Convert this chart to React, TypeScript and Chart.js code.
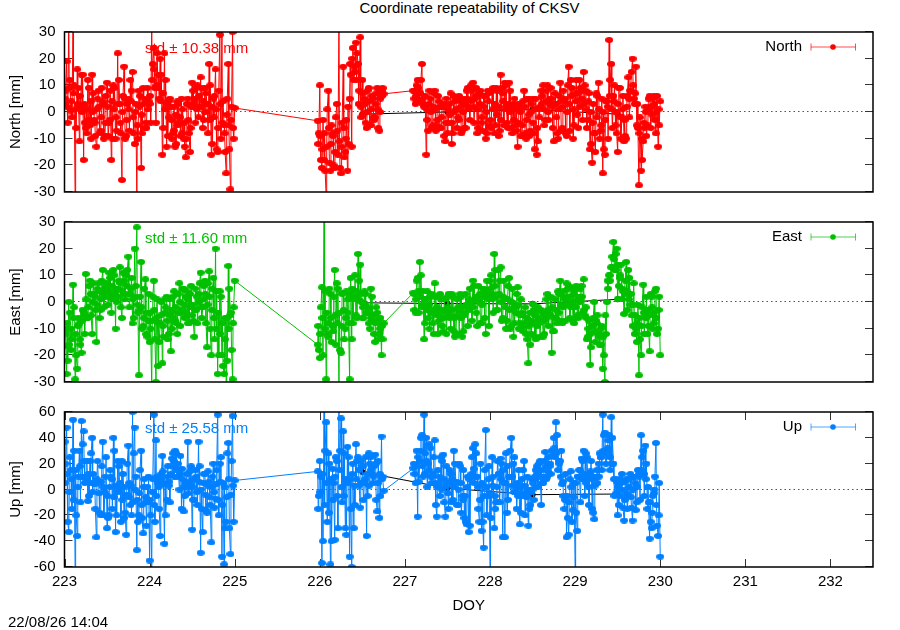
import React, { useEffect, useRef } from "react";
import Chart from "chart.js/auto";

const FONT = "'Liberation Sans', Arial, sans-serif";
const FONT_SIZE = 15;

// epochs (DOY), the station has two data gaps
const doyA = [
  223.0, 223.025, 223.05, 223.075, 223.1, 223.125, 223.15, 223.175, 223.2, 223.225,
  223.25, 223.275, 223.3, 223.325, 223.35, 223.375, 223.4, 223.425, 223.45, 223.475,
  223.5, 223.525, 223.55, 223.575, 223.6, 223.625, 223.65, 223.675, 223.7, 223.725,
  223.75, 223.775, 223.8, 223.825, 223.85, 223.875, 223.9, 223.925, 223.95, 223.975,
  224.0, 224.025, 224.05, 224.075, 224.1, 224.125, 224.15, 224.175, 224.2, 224.225,
  224.25, 224.275, 224.3, 224.325, 224.35, 224.375, 224.4, 224.425, 224.45, 224.475,
  224.5, 224.525, 224.55, 224.575, 224.6, 224.625, 224.65, 224.675, 224.7, 224.725,
  224.75, 224.775, 224.8, 224.825, 224.85, 224.875, 224.9, 224.925, 224.95, 224.975, 225.0
];
const doyB = [
  225.975, 226.0, 226.025, 226.05, 226.075, 226.1, 226.125, 226.15, 226.175, 226.2,
  226.225, 226.25, 226.275, 226.3, 226.325, 226.35, 226.375, 226.4, 226.425, 226.45,
  226.475, 226.5, 226.525, 226.55, 226.575, 226.6, 226.625, 226.65, 226.675, 226.7,
  226.725, 226.75
];
const doyC = [
  227.1, 227.125, 227.15, 227.175, 227.2, 227.225, 227.25, 227.275, 227.3, 227.325,
  227.35, 227.375, 227.4, 227.425, 227.45, 227.475, 227.5, 227.525, 227.55, 227.575,
  227.6, 227.625, 227.65, 227.675, 227.7, 227.725, 227.75, 227.775, 227.8, 227.825,
  227.85, 227.875, 227.9, 227.925, 227.95, 227.975, 228.0, 228.025, 228.05, 228.075,
  228.1, 228.125, 228.15, 228.175, 228.2, 228.225, 228.25, 228.275, 228.3, 228.325,
  228.35, 228.375, 228.4, 228.425, 228.45, 228.475, 228.5, 228.525, 228.55, 228.575,
  228.6, 228.625, 228.65, 228.675, 228.7, 228.725, 228.75, 228.775, 228.8, 228.825,
  228.85, 228.875, 228.9, 228.925, 228.95, 228.975, 229.0, 229.025, 229.05, 229.075,
  229.1, 229.125, 229.15, 229.175, 229.2, 229.225, 229.25, 229.275, 229.3, 229.325,
  229.35, 229.375, 229.4, 229.425, 229.45, 229.475, 229.5, 229.525, 229.55, 229.575,
  229.6, 229.625, 229.65, 229.675, 229.7, 229.725, 229.75, 229.775, 229.8, 229.825,
  229.85, 229.875, 229.9, 229.925, 229.95, 229.975, 230.0
];
// epochs in between, these carry the dense band of each day
const midDoyA = [
  223.0125, 223.0375, 223.0625, 223.0875, 223.1125, 223.1375, 223.1625, 223.1875, 223.2125, 223.2375,
  223.2625, 223.2875, 223.3125, 223.3375, 223.3625, 223.3875, 223.4125, 223.4375, 223.4625, 223.4875,
  223.5125, 223.5375, 223.5625, 223.5875, 223.6125, 223.6375, 223.6625, 223.6875, 223.7125, 223.7375,
  223.7625, 223.7875, 223.8125, 223.8375, 223.8625, 223.8875, 223.9125, 223.9375, 223.9625, 223.9875,
  224.0125, 224.0375, 224.0625, 224.0875, 224.1125, 224.1375, 224.1625, 224.1875, 224.2125, 224.2375,
  224.2625, 224.2875, 224.3125, 224.3375, 224.3625, 224.3875, 224.4125, 224.4375, 224.4625, 224.4875,
  224.5125, 224.5375, 224.5625, 224.5875, 224.6125, 224.6375, 224.6625, 224.6875, 224.7125, 224.7375,
  224.7625, 224.7875, 224.8125, 224.8375, 224.8625, 224.8875, 224.9125, 224.9375, 224.9625, 224.9875
];
const midDoyB = [
  225.9875, 226.0125, 226.0375, 226.0625, 226.0875, 226.1125, 226.1375, 226.1625, 226.1875, 226.2125,
  226.2375, 226.2625, 226.2875, 226.3125, 226.3375, 226.3625, 226.3875, 226.4125, 226.4375, 226.4625,
  226.4875, 226.5125, 226.5375, 226.5625, 226.5875, 226.6125, 226.6375, 226.6625, 226.6875, 226.7125,
  226.7375
];
const midDoyC = [
  227.1125, 227.1375, 227.1625, 227.1875, 227.2125, 227.2375, 227.2625, 227.2875, 227.3125, 227.3375,
  227.3625, 227.3875, 227.4125, 227.4375, 227.4625, 227.4875, 227.5125, 227.5375, 227.5625, 227.5875,
  227.6125, 227.6375, 227.6625, 227.6875, 227.7125, 227.7375, 227.7625, 227.7875, 227.8125, 227.8375,
  227.8625, 227.8875, 227.9125, 227.9375, 227.9625, 227.9875, 228.0125, 228.0375, 228.0625, 228.0875,
  228.1125, 228.1375, 228.1625, 228.1875, 228.2125, 228.2375, 228.2625, 228.2875, 228.3125, 228.3375,
  228.3625, 228.3875, 228.4125, 228.4375, 228.4625, 228.4875, 228.5125, 228.5375, 228.5625, 228.5875,
  228.6125, 228.6375, 228.6625, 228.6875, 228.7125, 228.7375, 228.7625, 228.7875, 228.8125, 228.8375,
  228.8625, 228.8875, 228.9125, 228.9375, 228.9625, 228.9875, 229.0125, 229.0375, 229.0625, 229.0875,
  229.1125, 229.1375, 229.1625, 229.1875, 229.2125, 229.2375, 229.2625, 229.2875, 229.3125, 229.3375,
  229.3625, 229.3875, 229.4125, 229.4375, 229.4625, 229.4875, 229.5125, 229.5375, 229.5625, 229.5875,
  229.6125, 229.6375, 229.6625, 229.6875, 229.7125, 229.7375, 229.7625, 229.7875, 229.8125, 229.8375,
  229.8625, 229.8875, 229.9125, 229.9375, 229.9625, 229.9875
];
// and the epochs nearest the middle of that band
const coreDoyA = [
  223.006, 223.031, 223.056, 223.081, 223.106, 223.131, 223.156, 223.181, 223.206, 223.231,
  223.256, 223.281, 223.306, 223.331, 223.356, 223.381, 223.406, 223.431, 223.456, 223.481,
  223.506, 223.531, 223.556, 223.581, 223.606, 223.631, 223.656, 223.681, 223.706, 223.731,
  223.756, 223.781, 223.806, 223.831, 223.856, 223.881, 223.906, 223.931, 223.956, 223.981,
  224.006, 224.031, 224.056, 224.081, 224.106, 224.131, 224.156, 224.181, 224.206, 224.231,
  224.256, 224.281, 224.306, 224.331, 224.356, 224.381, 224.406, 224.431, 224.456, 224.481,
  224.506, 224.531, 224.556, 224.581, 224.606, 224.631, 224.656, 224.681, 224.706, 224.731,
  224.756, 224.781, 224.806, 224.831, 224.856, 224.881, 224.906, 224.931, 224.956, 224.981
];
const coreDoyB = [
  225.981, 226.006, 226.031, 226.056, 226.081, 226.106, 226.131, 226.156, 226.181, 226.206,
  226.231, 226.256, 226.281, 226.306, 226.331, 226.356, 226.381, 226.406, 226.431, 226.456,
  226.481, 226.506, 226.531, 226.556, 226.581, 226.606, 226.631, 226.656, 226.681, 226.706,
  226.731
];
const coreDoyC = [
  227.106, 227.131, 227.156, 227.181, 227.206, 227.231, 227.256, 227.281, 227.306, 227.331,
  227.356, 227.381, 227.406, 227.431, 227.456, 227.481, 227.506, 227.531, 227.556, 227.581,
  227.606, 227.631, 227.656, 227.681, 227.706, 227.731, 227.756, 227.781, 227.806, 227.831,
  227.856, 227.881, 227.906, 227.931, 227.956, 227.981, 228.006, 228.031, 228.056, 228.081,
  228.106, 228.131, 228.156, 228.181, 228.206, 228.231, 228.256, 228.281, 228.306, 228.331,
  228.356, 228.381, 228.406, 228.431, 228.456, 228.481, 228.506, 228.531, 228.556, 228.581,
  228.606, 228.631, 228.656, 228.681, 228.706, 228.731, 228.756, 228.781, 228.806, 228.831,
  228.856, 228.881, 228.906, 228.931, 228.956, 228.981, 229.006, 229.031, 229.056, 229.081,
  229.106, 229.131, 229.156, 229.181, 229.206, 229.231, 229.256, 229.281, 229.306, 229.331,
  229.356, 229.381, 229.406, 229.431, 229.456, 229.481, 229.506, 229.531, 229.556, 229.581,
  229.606, 229.631, 229.656, 229.681, 229.706, 229.731, 229.756, 229.781, 229.806, 229.831,
  229.856, 229.881, 229.906, 229.931, 229.956, 229.981
];
const doy = [...doyA, ...doyB, ...doyC];
const midDoy = [...midDoyA, ...midDoyB, ...midDoyC];
const coreDoy = [...coreDoyA, ...coreDoyB, ...coreDoyC];

const northA = [
  3, 19, 34, 0.5, 33, -32, 16, -11, 14, -18,
  -6, 12, -5, 14, -3, -13, 8, -7, 4, -9,
  11, -4, -18, 10, -10, 22, 3, -25.5, 17, -9,
  5, 12, 15, -12, -32, 8, -21, 9, -6, 9,
  3, 33, 24, -4, 9, 20, -16, 22, -13, 4,
  2, -8, -13, 4, -4, 5, -10, -17, 5, -15,
  11, 2, 9, -2, 13, -6, 9, 3, 18, -16,
  5, 16, -15, 29, 33, -5, -23, 18, -29, 30, 1.5
];
const northB = [
  -3.3, 10, -21, -18, -32, 8, -22, -8, -21, 3,
  34, -23, 17, -15, -22, 5, -13, 12, 26, 18,
  28, 12, 5, -6, 9, -5, 5, -2, 9, -7,
  8, 6.8
];
const northC = [
  8, 3, 12, 7, 18, 2, -16, -7, 5, -5,
  8, -5, 4, -6, 2, -11, -8, 3, -12, 6,
  5, -2, 4, -7, -6, 8, 2, 10, 11, 5,
  -8, 7, -4, 6, -10, 8, -5, 8, -8, 9,
  -9, 14, 7, 11, -4, 11, -6, 3, -5, -13,
  2, -9, 8, -10, 5, -7, 5, -14, -16, 1,
  8, 10, -3, 10, 3, 5, -11, 3, -10, 11,
  -6, 4, -9, 17, 12, -10, 7, -1, 12, 8,
  15, 8, -3, -14, -19, -8, 7, 11, -7, -23,
  -16, 4, 27, 18, 6, -5, -15, 9, -2, -11,
  -10, 13, 8, 20, 3, -5, -27.5, -22, -11, 2,
  -5, 6, 2, 6, -8, -13, 4
];
const northMid = [
  8, -4, 12, -2, 10, -6, 9, 2, 14, -4,
  -8, 9, -10, 7, -9, 5, -8, 9, -10, 6,
  -9, 8, -10, 9, -7, 12, -8, 6, -10, 3,
  -7, 8, -8, 3, -10, 6, -8, 5, -6, 4,
  -4, 18, 9, 22, 5, 14, -6, 12, -9, 5,
  -10, 2, -12, 3, -9, 1, -13, 3, -8, 2,
  8, -4, 10, 2, 9, -3, 7, -8, 10, -12,
  6, -14, 8, -10, 4, -15, 5, -14, 2, -10,
  -8, -18, -3, -22, 1, -19, -5, -20, -2, -16,
  -21, -4, -17, -3, -12, 14, 24, 15, 22, 8,
  -2, 7, -4, 8, -5, 6, -3, 7, -6, 5, 9,
  5, 10, 4, 12, 3, 6, -3, 8, -6, 7,
  -7, 6, -6, 2, -9, 5, -4, 7, -8, 4,
  -6, 6, -8, 5, -6, 9, -3, 8, -4, 9,
  -6, 8, -7, 6, -8, 7, -6, 9, -5, 8,
  -7, 9, -5, 10, -6, 8, -8, 5, -7, 3,
  -9, 4, -8, 5, -9, 3, -8, 5, -11, 2,
  6, -5, 8, -3, 9, -6, 7, -8, 6, -7,
  8, -8, 10, -7, 9, -5, 12, -6, 9, -3,
  10, -6, 7, -12, 3, -15, 6, -10, 5, -14,
  4, -10, 12, -6, 10, -8, 9, -10, 6, -9,
  6, -2, 15, 5, 17, -6, -2, -18, -6, -9,
  5, -6, 5, -3, 6, -5
];
const northCore = [
  5, 2, 9, 4, 7, 1, 3, 6, 0, 3,
  1, -3, 4, 0, -4, 1, 2, -2, 3, -4,
  2, -3, 4, 1, -2, 3, -4, 0, 5, -3,
  1, 4, -2, 0, -5, 2, -1, 3, -4, 1,
  6, 12, 16, 10, 14, 4, 7, 1, 3, -2,
  -3, -7, -1, -5, -2, -8, -4, -10, -3, -6,
  3, 5, 1, 6, 2, 4, 0, 3, -3, 2,
  -2, 1, -6, 3, -4, -8, -1, -5, -3, -6,
  -12, -9, -14, -8, -13, -6, -12, -9, -15, -7,
  -11, -13, -6, -10, 2, 18, 20, 17, 12, 3,
  2, -1, 3, 0, 4, 1, -2, 3, 1, 0, 6,
  8, 6, 9, 7, 5, 2, 1, 3, 0, 2,
  1, -3, 2, -2, 3, -4, 1, -1, -4, 0,
  1, -3, 2, 0, 3, 5, 1, 4, 2, 6,
  1, 3, -2, 2, 0, 4, -3, 1, 3, -1,
  2, -3, 4, 1, 3, 0, 2, -3, 1, -4,
  0, -5, 2, -3, -1, 0, -4, 1, -6, -2,
  3, 1, 4, 0, 5, 2, 3, -2, 1, 4,
  2, 5, 0, 3, 6, 1, 4, 7, 2, 5,
  3, 1, 4, 0, -4, -8, -2, 1, -5, 0,
  -3, 2, 6, 1, 4, 0, 3, -2, 1, -3,
  2, 5, 8, 10, 7, 3, -8, -10, -4, 0,
  1, 2, -1, 3, 0, 1
];
const north = [...northA, ...northB, ...northC];

const eastA = [
  -16.5, -27, 0, -18, 6.5, -29, -25, -8, -19, -4,
  10.5, -6, 8, -12, 3, -15, 7, -3, 12, 5,
  7, 11, -4, 12, -10, 5, 13, -6, 8, 10,
  17, 3, -8, 20, 28, -27.5, 15, -9, 8.5, -13,
  -15, -32, 8, -30, -24, -8, -23, 1, 2, -12,
  -18.5, 2, -7, -12, 7, -4, 5, 2, -8, 3,
  -5, -13, -3, 3, 11, -2, 8, -17, 11.5, -20,
  9, 20, -27, 4, -20, -27, -31, 13.5, -5, -29, 8
];
const eastB = [
  -16, -21, 5.5, 34, -29, -13, 3, -9, 12, 7,
  -32, -19, 3.5, -10, -4, -29, -14, 1, -5, 18,
  14, -6, 4, -4, -8, 5, -7, -15, -4, -12,
  -20, -8
];
const eastC = [
  3.5, -4, 9, 15, -2, -14, 1, -6, 2, -8,
  7, -5, -7, 1, -11, -3, 2, -6, 3, -11,
  -12, -2, 3, -13, -5, -1, 1, -2, 8, 1,
  -9, 0, -8, 5, -12, 3, 8, 1, 18, -3,
  12, 13, -6, 1, -7, 9, -9, -13, -2, 5.5,
  -8, -5, -9, -12, -23, -16, -0.7, -13, -3, -8,
  -3, -13, -7, 3, -5, -19, -11, -6, 4, 8,
  -8, 2, 7, 6, -2, -7, 4.5, -5, 2, 6,
  8.5, -2, -13, -23.5, -9, 0, -7, -13, -16, -25,
  -30, 0, 10, 13, 22.5, 18, 1, 9, 1, -4.5,
  15, 12, -1, -9, -12, -15, -27.5, -20, 6.5, -4,
  -12, -18.5, 2, -8, 5, -10, -20
];
const eastMid = [
  -10, -22, -4, -14, -2, -20, -6, -16, -3, -12,
  -6, 6, -5, 7, -3, 5, -6, 8, -2, 6,
  -1, 9, 1, 10, 0, 8, -2, 11, 1, 12,
  -2, 9, -6, 6, -4, 2, -10, 5, -12, 3,
  -10, 2, -14, 1, -15, 0, -13, -2, -14, 1,
  -10, 4, -8, 3, -9, 5, -6, 4, -8, 6,
  -7, 5, -8, 7, -6, 6, -8, 7, -10, 5,
  -14, 4, -20, 2, -24, -6, -22, 5, -18, -2,
  -18, -2, -20, 4, -12, 5, -15, 2, -16, 5,
  -18, 3, -14, 4, -8, 9, -8, 10, -6, 8,
  0, -6, 3, -2, -10, 2, -12, -2, -14, -6, -14,
  -3, 8, -4, 10, 4, -8, 4, -10, 3, -12,
  2, -12, 3, -9, 1, -12, 3, -10, 2, -13,
  1, -12, 2, -11, 3, -9, 5, -7, 6, -4,
  6, -8, 5, -6, 8, -9, 10, -4, 12, -3,
  8, -7, 8, -10, 6, -10, 5, -8, 3, -10,
  1, -11, -2, -14, -4, -12, -3, -14, -2, -13,
  -4, -12, 1, -9, 2, -11, 1, -8, 3, -7,
  4, -7, 5, -6, 5, -8, 6, -6, 5, -4,
  -5, -14, -7, -17, -6, -15, -5, -16, -9, -20,
  -12, 5, 8, 17, 12, 20, 6, 14, 4, 8,
  -3, 9, -5, 7, -10, -1, -14, -2, -12, 2,
  -9, 3, -10, 4, -12, 2
];
const eastCore = [
  -12, -8, -16, -10, -6, -12, -9, -14, -7, -5,
  1, -2, 3, 0, 2, -1, 4, 1, 3, 2,
  4, 2, 6, 3, 5, 2, 7, 4, 3, 6,
  3, 5, 1, 2, -1, -3, -2, -6, -4, -7,
  -4, -7, -3, -6, -8, -5, -9, -4, -7, -5,
  -3, -6, -2, -4, 0, -3, -1, -4, 1, -2,
  -1, -3, 2, 0, -2, 1, 3, -1, 2, -3,
  -6, -10, -4, -12, -8, -14, -6, -10, -4, -8,
  -9, -12, -6, -10, -4, -8, -6, -11, -5, -8,
  -4, -9, -3, -6, 1, 3, 5, 2, 4, 1,
  3, -2, -1, -4, -3, -6, -5, -8, -7, -10, -9,
  3, 1, 4, 2, -1, 1, -3, -1, -4, -3,
  -4, -2, -5, -3, -6, -4, -2, -5, -3, -6,
  -5, -3, -6, -2, -4, -1, -3, 0, -2, 2,
  1, 3, -1, 2, 4, 1, 5, 3, 6, 2,
  3, 0, 2, -2, 1, -3, 0, -2, -4, -1,
  -5, -4, -8, -6, -9, -7, -8, -5, -9, -6,
  -7, -4, -6, -3, -5, -2, -6, -3, -4, -1,
  -2, 1, -1, 2, 0, 3, -2, 1, 0, 2,
  -3, -6, -10, -12, -9, -11, -8, -12, -10, -13,
  -5, 8, 10, 13, 16, 12, 14, 10, 5, 3,
  4, 1, 3, -1, -5, -8, -6, -9, -4, -6,
  -3, -5, -2, -4, -6, -3
];
const east = [...eastA, ...eastB, ...eastC];

const upA = [
  37, 48, -33, 15, 54, -63, -36, 30, 53, 45,
  10, -9, 22, 40, 5, -37, 5, -20, 37, -2,
  -30, -20, 10, 40, -33, 22, 2, 22, -22, -35,
  34, -12, 60, 48, -47, -20, 30, -34, -10, 2,
  -55, -62, 58, 38, 5, -36, 26, -42, -8, 3,
  12, 28, 30, 10, 0, -15, -17, 5, 37, 14,
  -31, -8, 10, 37, -49, -33, 12, -18, 6, -41,
  20, -7, 58, 20, -52, -58, -25, 36, -50, 57, 7
];
const upB = [
  14, 22, -57, 62, 52, 28, -58, 16, -39, 22,
  62, 55, 45, -30, 33, -52, -60, -30, 35, 25,
  -14, 18, 5, -36, 28, 25, 5, 27, -17, -22,
  41, -1
];
const upC = [
  16.5, 5, -21, 22, 42, 58, 40, 20, 32, 10,
  38, -21, 5, 25, 27, -21, 5, 15, -10, 30,
  5, -12, 18, -5, -22, -27, -33, 10, 32, 35,
  10, -25, -32, -45, 46, -5, -62, 25, -30, -10,
  12, 24, -37, -37, -18, 10, 40, 20, -2, 5,
  -27, 8, 22, -2, -28, -12, 0, 10, 18, 20,
  -12, 5, 29, 10, 18, 30, 40, 52, 15, 22,
  4, -15, -37, -35, 14, -16, -62, -32, 15, 24,
  30, 28, 8, 12, -15, -23, 10, 20, 25, 58,
  44, 30, 42, 56, 20, 8, -20, 8, 12, -24,
  8, -5, 12, -24, 10, -10, 12, 42, 30, 34,
  -15, -38, -30, -3, 36, -36, -52
];
const upMid = [
  20, -25, 25, -15, 30, -20, 10, -10, 35, 5,
  22, -5, 28, 12, -15, 22, -18, 18, -20, 25,
  -22, 15, -15, 30, -20, 18, -25, 12, -18, 20,
  5, -20, 28, 10, -25, 15, -22, 8, -28, 10,
  -20, 8, -25, 10, -15, 12, 5, -20, 18, -10,
  24, 10, 28, 15, 26, 8, -5, 12, 2, 18,
  -8, 15, -12, 18, -15, 12, -16, 14, -12, 10,
  -14, 15, -20, 25, 5, -30, 28, -30, 22, -25,
  -5, 10, -40, 30, -25, 20, -40, 5, 25, -30,
  30, -10, 28, -35, 25, -15, 20, -12, 22, 3,
  22, -8, 25, -5, 20, 12, 18, -8, 22, -5, 10,
  12, 30, 6, 40, 10, 28, 2, 35, 5, 25,
  -12, 15, -5, 22, -10, 18, -15, 12, -8, 20,
  -12, 20, -18, 15, -25, 10, -28, 25, 5, 28,
  -15, 20, -25, 15, -20, 18, -22, 10, -15, 22,
  -10, 20, 5, 28, -8, 30, 10, 25, -15, 15,
  -18, 15, -20, 10, -15, 8, -8, 15, 2, 22,
  5, 22, 8, 25, 12, 30, 25, 42, 20, 30,
  -5, 12, -22, 8, -25, 5, -18, 10, -10, 22,
  -5, 25, -12, 22, -18, 10, 5, 28, 15, 42,
  20, 38, 15, 40, -5, 6, -12, 5, -14, 6,
  -15, 8, -14, 10, -16, 15, -8, 25, -5, 20,
  -10, -25, -5, 10, -28, 5
];
const upCore = [
  5, 12, -2, 8, -8, 15, 2, 18, 10, 22,
  8, 12, 5, -2, 4, 8, -3, 6, 2, 10,
  -5, 2, 8, -6, 3, -2, 5, -8, 2, -4,
  -6, 3, -10, 0, -8, -3, -12, 2, -6, -10,
  -8, -2, -12, -5, 2, 8, 14, 4, 10, 6,
  18, 22, 15, 20, 12, 16, 2, 6, -3, 5,
  2, 8, -2, 6, 0, 5, -4, 3, -6, 2,
  -2, 4, -8, 6, -12, 2, -6, 8, -4, 3,
  -15, -2, 12, -12, 5, -18, 8, -8, 10, -5,
  15, 2, -5, 8, 5, 8, 12, 3, 8, 15,
  5, 18, 8, 12, 3, 15, 10, 20, 5, 12, 8,
  20, 18, 25, 30, 18, 12, 22, 15, 10, 12,
  5, 2, 10, 0, 8, 3, -3, 5, 8, 2,
  6, 0, 5, -8, -5, 2, 8, 12, 16, 10,
  2, -8, 5, -5, 2, 8, -3, 3, -5, 2,
  12, 8, 15, 5, 18, 10, 3, -2, 4, -5,
  2, -5, 3, -6, 0, -2, 5, 8, 12, 10,
  15, 10, 18, 14, 20, 26, 32, 28, 22, 10,
  6, -8, -5, -10, 2, -6, 5, 10, 15, 8,
  12, 5, 2, 14, 8, 3, 15, 10, 25, 30,
  28, 32, 25, 20, 8, -3, 2, -5, 0, -8,
  -3, 2, -6, 0, 5, 2, 10, 15, 12, 8,
  2, -10, -18, 0, -12, -20
];
const up = [...upA, ...upB, ...upC];

// daily solutions, drawn in black behind the epochs
const dailyDoy = [226.5, 227.5, 228.5, 229.5];
const dailyNorth = [-0.8, 0, 0.9, -0.8];
const dailyEast = [-0.3, -0.6, -0.7, 1];
const dailyUp = [13.5, 1, -4, -3.5];

const toSeries = (values: number[], mids: number[], cores: number[]) =>
  [
    ...doy.map((x, i) => ({ x, y: values[i] })),
    ...midDoy.map((x, i) => ({ x, y: mids[i] })),
    ...coreDoy.map((x, i) => ({ x, y: cores[i] }))
  ].sort((a, b) => a.x - b.x);

// point with its small error tics reads as a flat blob, 8 wide and 6 high
const makeMarker = (color: string) => {
  const m = document.createElement("canvas");
  m.width = 8;
  m.height = 6;
  const c = m.getContext("2d");
  if (c) {
    c.fillStyle = color;
    c.beginPath();
    c.ellipse(4, 3, 4, 3, 0, 0, Math.PI * 2);
    c.fill();
  }
  return m;
};

type PanelProps = {
  name: string;
  axisLabel: string;
  std: string;
  color: string;
  values: number[];
  mids: number[];
  cores: number[];
  daily: number[];
  yMax: number;
  yStep: number;
  top: number;
  plotHeight: number;
  showX?: boolean;
};

const Panel: React.FC<PanelProps> = ({ name, axisLabel, std, color, values, mids, cores, daily, yMax, yStep, top, plotHeight, showX }) => {
  const chartRef = useRef<HTMLCanvasElement>(null);
  const pad = 12;
  const xAxisHeight = 55;
  const height = showX ? 630 - top : plotHeight + pad * 2;

  useEffect(() => {
    if (!chartRef.current) return;
    const ctx = chartRef.current.getContext("2d");
    if (!ctx) return;

    const frame = {
      id: "frame",
      beforeDatasetsDraw(chart: any) {
        const { ctx: c, chartArea: a, scales } = chart;
        c.save();
        // std text lies under the points
        c.fillStyle = color;
        c.font = `${FONT_SIZE}px ${FONT}`;
        c.textAlign = "left";
        c.textBaseline = "middle";
        c.fillText(std, 145, a.top + 16.5);
        // dotted zero line
        c.strokeStyle = "#555";
        c.lineWidth = 1;
        c.setLineDash([1.5, 3]);
        const y0 = Math.round(scales.y.getPixelForValue(0)) - 0.5;
        c.beginPath();
        c.moveTo(a.left, y0);
        c.lineTo(a.right, y0);
        c.stroke();
        c.setLineDash([]);
        // inward ticks on both sides
        c.strokeStyle = "#333";
        c.beginPath();
        scales.y.ticks.forEach((t: any) => {
          const y = Math.round(scales.y.getPixelForValue(t.value)) - 0.5;
          c.moveTo(a.left, y);
          c.lineTo(a.left + 8, y);
          c.moveTo(a.right, y);
          c.lineTo(a.right - 8, y);
        });
        if (showX) {
          scales.x.ticks.forEach((t: any) => {
            const x = Math.round(scales.x.getPixelForValue(t.value)) + 0.5;
            c.moveTo(x, a.top);
            c.lineTo(x, a.top + 8);
            c.moveTo(x, a.bottom);
            c.lineTo(x, a.bottom - 8);
          });
        }
        c.stroke();
        c.restore();
      },
      afterDatasetsDraw(chart: any) {
        const { ctx: c, chartArea: a } = chart;
        c.save();
        c.strokeStyle = "#000";
        c.lineWidth = 1.5;
        c.strokeRect(a.left, a.top, a.right - a.left, a.bottom - a.top);
        // legend key with error bar
        const ly = a.top + 15;
        c.fillStyle = "#000";
        c.font = `${FONT_SIZE}px ${FONT}`;
        c.textAlign = "right";
        c.textBaseline = "middle";
        c.fillText(name, 802, ly);
        c.strokeStyle = color;
        c.lineWidth = 1;
        c.globalAlpha = 0.7;
        c.beginPath();
        c.moveTo(811, ly);
        c.lineTo(855.5, ly);
        c.moveTo(811, ly - 3.5);
        c.lineTo(811, ly + 3.5);
        c.moveTo(855.5, ly - 3.5);
        c.lineTo(855.5, ly + 3.5);
        c.stroke();
        c.globalAlpha = 1;
        c.fillStyle = color;
        c.beginPath();
        c.arc(833, ly, 2.8, 0, Math.PI * 2);
        c.fill();
        c.restore();
      }
    };

    const chart = new Chart(ctx, {
      type: "scatter",
      data: {
        datasets: [
          {
            label: name,
            data: toSeries(values, mids, cores),
            showLine: true,
            borderColor: color,
            borderWidth: 1,
            backgroundColor: color,
            pointStyle: makeMarker(color),
            pointRadius: 4,
            pointBorderWidth: 0
          },
          {
            label: "daily",
            data: dailyDoy.map((x, i) => ({ x, y: daily[i] })),
            showLine: true,
            borderColor: "#000",
            borderWidth: 1,
            backgroundColor: "#000",
            pointRadius: 3,
            pointBorderWidth: 0
          }
        ]
      },
      options: {
        responsive: false,
        animation: false,
        layout: {
          padding: { top: pad, bottom: showX ? height - pad - plotHeight - xAxisHeight : pad, left: 0, right: 27 }
        },
        plugins: { legend: { display: false }, tooltip: { enabled: false }, title: { display: false } },
        scales: {
          x: {
            type: "linear",
            display: !!showX,
            min: 223,
            max: 232.5,
            grid: { display: false, drawTicks: false },
            border: { display: false },
            afterFit: (s: any) => {
              s.height = showX ? xAxisHeight : 0;
              s.paddingLeft = 0;
              s.paddingRight = 0;
            },
            ticks: {
              stepSize: 1,
              includeBounds: false,
              maxRotation: 0,
              color: "#000",
              padding: 6,
              font: { family: FONT, size: FONT_SIZE },
              callback: (v: any) => String(v)
            },
            title: {
              display: true,
              text: "DOY",
              color: "#000",
              padding: { top: 0, bottom: 7 },
              font: { family: FONT, size: FONT_SIZE }
            }
          },
          y: {
            min: -yMax,
            max: yMax,
            grid: { display: false, drawTicks: false },
            border: { display: false },
            afterFit: (s: any) => {
              s.width = 64.5;
              s.paddingTop = 0;
              s.paddingBottom = 0;
            },
            ticks: {
              stepSize: yStep,
              autoSkip: false,
              color: "#000",
              padding: 9,
              font: { family: FONT, size: FONT_SIZE }
            },
            title: {
              display: true,
              text: axisLabel,
              color: "#000",
              padding: { top: 7, bottom: 0 },
              font: { family: FONT, size: FONT_SIZE }
            }
          }
        }
      },
      plugins: [frame]
    } as any);

    return () => chart.destroy();
  }, []);

  return (
    <canvas
      ref={chartRef}
      width={900}
      height={height}
      style={{ position: "absolute", left: 0, top: top, width: 900, height: height }}
    />
  );
};

const textStyle: React.CSSProperties = {
  position: "absolute",
  font: `${FONT_SIZE}px ${FONT}`,
  color: "#000",
  whiteSpace: "nowrap",
  lineHeight: "16px"
};

export default function App() {
  return (
    <div style={{ position: "absolute", left: 0, top: 0, width: 900, height: 630, background: "#fff", overflow: "hidden" }}>
      <div style={{ ...textStyle, left: 0, width: 939, top: 0, textAlign: "center" }}>Coordinate repeatability of CKSV</div>
      <Panel name="North" axisLabel="North [mm]" std="std ± 10.38 mm" color="#ff0000" values={north} mids={northMid} cores={northCore} daily={dailyNorth} yMax={30} yStep={10} top={20} plotHeight={160} />
      <Panel name="East" axisLabel="East [mm]" std="std ± 11.60 mm" color="#00c000" values={east} mids={eastMid} cores={eastCore} daily={dailyEast} yMax={30} yStep={10} top={210} plotHeight={160} />
      <Panel name="Up" axisLabel="Up [mm]" std="std ± 25.58 mm" color="#0080ff" values={up} mids={upMid} cores={upCore} daily={dailyUp} yMax={60} yStep={20} top={400} plotHeight={155} showX />
      <div style={{ ...textStyle, left: 8, top: 614 }}>22/08/26 14:04</div>
    </div>
  );
}
